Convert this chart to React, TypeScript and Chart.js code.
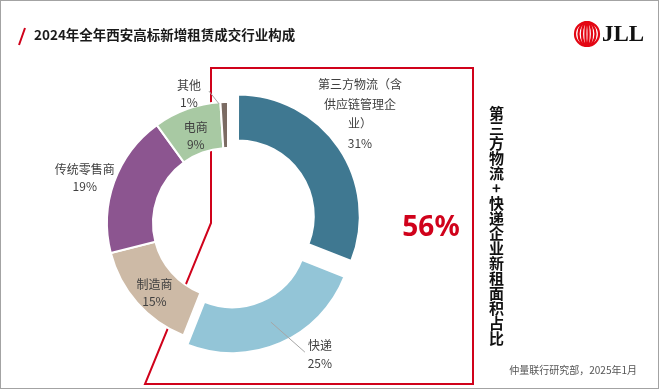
import React, { useEffect, useRef } from 'react';
import { Chart, registerables } from 'chart.js';

Chart.register(...registerables);

// ---- data ----
const categories = ['第三方物流（含供应链管理企业）', '快递', '制造商', '传统零售商', '电商', '其他'];
const shares = [31, 25, 15, 19, 9, 1];
const highlightIdx = [0, 1];
const title = '2024年全年西安高标新增租赁成交行业构成';
const sideNote = '第三方物流+快递企业新租面积占比';
const sourceNote = '仲量联行研究部，2025年1月';

// ---- styles ----
const sliceColors = ['#3f7891', '#93c5d7', '#cdbaa6', '#8c5590', '#a8c9a3', '#7b6b63'];
const sliceExplode = [48, 40, 0, 0, 0, 0];
const RED = '#d0021b';

function wrapText(ctx: CanvasRenderingContext2D, text: string, maxW: number): string[] {
  const lines: string[] = [];
  let cur = '';
  for (const ch of Array.from(text)) {
    if (cur && ctx.measureText(cur + ch).width > maxW) {
      if ('）)，。、'.includes(ch) && cur.length > 1) {
        lines.push(cur.slice(0, -1));
        cur = cur.slice(-1) + ch;
      } else {
        lines.push(cur);
        cur = ch;
      }
    } else {
      cur += ch;
    }
  }
  if (cur) lines.push(cur);
  return lines;
}

const sliceLabels = {
  id: 'sliceLabels',
  afterDatasetsDraw(chart: any, _args: any, opts: any) {
    const ctx: CanvasRenderingContext2D = chart.ctx;
    const meta = chart.getDatasetMeta(0);
    const labels: string[] = chart.data.labels;
    const values: number[] = chart.data.datasets[0].data;
    ctx.save();
    ctx.font = opts.font;
    ctx.textAlign = 'center';
    ctx.textBaseline = 'middle';
    meta.data.forEach((arc: any, i: number) => {
      const p = arc.getProps(['x', 'y', 'startAngle', 'endAngle', 'innerRadius', 'outerRadius'], true);
      const mid = (p.startAngle + p.endAngle) / 2;
      const off = (arc.options.offset || 0) / 4;
      const rMid = (p.innerRadius + p.outerRadius) / 2;
      const ax = p.x + Math.cos(mid) * (rMid + off);
      const ay = p.y + Math.sin(mid) * (rMid + off);
      const [dx, dy] = opts.shift[i];
      const lx = ax + dx;
      const ly = ay + dy;
      const lines = wrapText(ctx, labels[i], opts.maxWidth).concat([`${values[i]}%`]);
      const lh = opts.lineHeight[i];
      const top = ly - ((lines.length - 1) * lh) / 2;
      const leader = opts.leaders.find((l: any) => l.index === i);
      if (leader) {
        ctx.strokeStyle = opts.leaderColor;
        ctx.lineWidth = 1;
        ctx.beginPath();
        let sx, sy;
        if (leader.from === 'mid') {
          sx = ax; sy = ay;
        } else {
          sx = p.x + Math.cos(mid) * (p.outerRadius + off) + leader.edge[0];
          sy = p.y + Math.sin(mid) * (p.outerRadius + off) + leader.edge[1];
        }
        ctx.moveTo(sx, sy);
        ctx.lineTo(lx + leader.labelEnd[0], ly + leader.labelEnd[1]);
        ctx.stroke();
      }
      ctx.fillStyle = opts.color;
      lines.forEach((t, k) => ctx.fillText(t, lx, top + k * lh));
    });
    ctx.restore();
  },
};

export default function App() {
  const ref = useRef<HTMLCanvasElement>(null);

  useEffect(() => {
    const chart = new Chart(ref.current as HTMLCanvasElement, {
      type: 'doughnut',
      data: {
        labels: categories,
        datasets: [
          {
            data: shares,
            backgroundColor: sliceColors,
            borderColor: '#ffffff',
            borderWidth: 2,
            offset: sliceExplode,
            hoverOffset: 0,
          } as any,
        ],
      },
      options: {
        responsive: false,
        animation: false,
        events: [],
        radius: 121,
        cutout: '62%',
        layout: { padding: { left: 0, right: 204, top: 55, bottom: 0 } },
        plugins: {
          legend: { display: false },
          tooltip: { enabled: false },
          sliceLabels: {
            font: "12px 'Noto Sans CJK SC', sans-serif",
            color: '#404040',
            maxWidth: 85,
            shift: [[41, -47], [49, 32], [0, 5], [-51, -12], [1, 5], [-36, -31]],
            lineHeight: [19.5, 18, 17.5, 17.5, 17.5, 17.5],
            leaderColor: '#a6a6a6',
            leaders: [
              { index: 1, from: 'mid', labelEnd: [-15, -2] },
              { index: 5, from: 'outer', edge: [-5, 2], labelEnd: [20, -3] },
            ],
          },
        } as any,
      } as any,
      plugins: [sliceLabels],
    });
    return () => chart.destroy();
  }, []);

  const combined = highlightIdx.reduce((s, i) => s + shares[i], 0);
  const cjk = "'Noto Sans CJK SC', 'Noto Sans', sans-serif";

  return (
    <div style={{ position: 'fixed', left: 0, top: 0, width: 660, height: 391, background: '#fff', overflow: 'hidden', fontFamily: cjk }}>
      <div style={{ position: 'absolute', left: 0, top: 0, width: 659, height: 389, boxSizing: 'border-box', border: '1px solid #a3a3a3' }} />
      <svg width={660} height={391} style={{ position: 'absolute', left: 0, top: 0 }}>
        <line x1={25} y1={28} x2={19} y2={45} stroke={RED} strokeWidth={2} />
        <polygon points="211,68 473,68 473,384 145,384 211,223" fill="none" stroke={RED} strokeWidth={2} />
        <g fill="none" stroke="#e30613" strokeWidth={2.2}>
          <ellipse cx={587} cy={34} rx={12} ry={12} />
          <ellipse cx={587} cy={34} rx={8.5} ry={12} />
          <ellipse cx={587} cy={34} rx={5} ry={12} />
          <ellipse cx={587} cy={34} rx={1.6} ry={12} />
        </g>
      </svg>
      <canvas ref={ref} width={660} height={391} style={{ position: 'absolute', left: 0, top: 0, width: 660, height: 391 }} />
      <div style={{ position: 'absolute', left: 34, top: 24, lineHeight: '20px', fontSize: 13.5, fontWeight: 700, color: '#1a1a1a', whiteSpace: 'nowrap' }}>{title}</div>
      <div style={{ position: 'absolute', left: 602, top: 20, lineHeight: '28px', fontSize: 23, fontWeight: 700, fontFamily: "'Liberation Serif', serif", color: '#111' }}>JLL</div>
      <div style={{ position: 'absolute', left: 381, top: 205, width: 100, textAlign: 'center', lineHeight: '40px', fontSize: 28, fontWeight: 700, fontFamily: "'Noto Sans', sans-serif", color: RED }}>{`${combined}%`}</div>
      <div style={{ position: 'absolute', left: 486, top: 106, width: 20, lineHeight: '20px', fontSize: 15, fontWeight: 700, color: '#111', writingMode: 'vertical-rl', textOrientation: 'upright', whiteSpace: 'nowrap' }}>{sideNote}</div>
      <div style={{ position: 'absolute', right: 660 - 637, top: 361, lineHeight: '18px', fontSize: 10, color: '#555', whiteSpace: 'nowrap' }}>{sourceNote}</div>
    </div>
  );
}
